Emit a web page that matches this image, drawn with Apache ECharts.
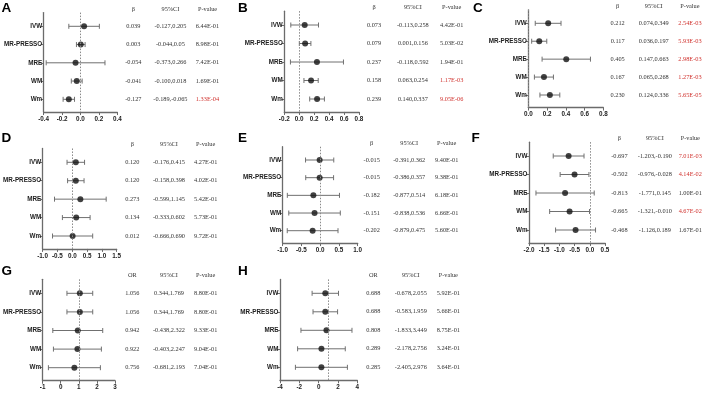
<!DOCTYPE html>
<html>
<head>
<meta charset="utf-8">
<script src="https://cdn.jsdelivr.net/npm/echarts@6/dist/echarts.min.js"></script>
<style>
  html, body { margin: 0; padding: 0; background: #fff; }
  #chart { width: 708px; height: 393px; }
</style>
</head>
<body>
<div id="chart"></div>
<script>
// rows of every panel
const methods = ['IVW', 'MR-PRESSO', 'MRE', 'WM', 'Wm'];
const headBeta = ['β', '95%CI', 'P-value'];
const headOR = ['OR', '95%CI', 'P-value'];

// values kept as printed strings, plotted with Number()
const estA = ['0.039', '0.003', '-0.054', '-0.041', '-0.127'];
const lowA = ['-0.127', '-0.044', '-0.373', '-0.100', '-0.189'];
const highA = ['0.205', '0.05', '0.266', '0.018', '-0.065'];
const pA = ['6.44E-01', '8.98E-01', '7.42E-01', '1.69E-01', '1.33E-04'];
const ticksA = [-0.4, -0.2, 0, 0.2, 0.4];

const estB = ['0.073', '0.079', '0.237', '0.158', '0.239'];
const lowB = ['-0.113', '0.001', '-0.118', '0.063', '0.140'];
const highB = ['0.258', '0.156', '0.592', '0.254', '0.337'];
const pB = ['4.42E-01', '5.03E-02', '1.94E-01', '1.17E-03', '9.05E-06'];
const ticksB = [-0.2, 0, 0.2, 0.4, 0.6, 0.8];

const estC = ['0.212', '0.117', '0.405', '0.167', '0.230'];
const lowC = ['0.074', '0.036', '0.147', '0.065', '0.124'];
const highC = ['0.349', '0.197', '0.663', '0.268', '0.336'];
const pC = ['2.54E-03', '5.93E-03', '2.98E-03', '1.27E-03', '5.65E-05'];
const ticksC = [0, 0.2, 0.4, 0.6, 0.8];

const estD = ['0.120', '0.120', '0.273', '0.134', '0.012'];
const lowD = ['-0.176', '-0.158', '-0.599', '-0.333', '-0.666'];
const highD = ['0.415', '0.398', '1.145', '0.602', '0.690'];
const pD = ['4.27E-01', '4.02E-01', '5.42E-01', '5.73E-01', '9.72E-01'];
const ticksD = [-1, -0.5, 0, 0.5, 1, 1.5];

const estE = ['-0.015', '-0.015', '-0.182', '-0.151', '-0.202'];
const lowE = ['-0.391', '-0.386', '-0.877', '-0.838', '-0.879'];
const highE = ['0.362', '0.357', '0.514', '0.536', '0.475'];
const pE = ['9.40E-01', '9.38E-01', '6.18E-01', '6.66E-01', '5.60E-01'];
const ticksE = [-1, -0.5, 0, 0.5, 1];

const estF = ['-0.697', '-0.502', '-0.813', '-0.665', '-0.468'];
const lowF = ['-1.203', '-0.976', '-1.771', '-1.321', '-1.126'];
const highF = ['-0.190', '-0.028', '0.145', '-0.010', '0.189'];
const pF = ['7.01E-03', '4.14E-02', '1.00E-01', '4.67E-02', '1.67E-01'];
const ticksF = [-2, -1.5, -1, -0.5, 0, 0.5];

const estG = ['1.056', '1.056', '0.942', '0.922', '0.756'];
const lowG = ['0.344', '0.344', '-0.438', '-0.403', '-0.681'];
const highG = ['1.769', '1.769', '2.322', '2.247', '2.193'];
const pG = ['8.80E-01', '8.80E-01', '9.33E-01', '9.04E-01', '7.04E-01'];
const ticksG = [-1, 0, 1, 2, 3];

const estH = ['0.688', '0.688', '0.808', '0.289', '0.285'];
const lowH = ['-0.678', '-0.583', '-1.833', '-2.178', '-2.405'];
const highH = ['2.055', '1.959', '3.449', '2.756', '2.976'];
const pH = ['5.92E-01', '5.66E-01', '8.75E-01', '3.24E-01', '3.64E-01'];
const ticksH = [-4, -2, 0, 2, 4];

const panels = [
  { id: 'A', est: estA, low: lowA, high: highA, p: pA, ticks: ticksA, head: headBeta, ref: 0, dec: 1 },
  { id: 'B', est: estB, low: lowB, high: highB, p: pB, ticks: ticksB, head: headBeta, ref: 0, dec: 1 },
  { id: 'C', est: estC, low: lowC, high: highC, p: pC, ticks: ticksC, head: headBeta, ref: 0, dec: 1 },
  { id: 'D', est: estD, low: lowD, high: highD, p: pD, ticks: ticksD, head: headBeta, ref: 0, dec: 1 },
  { id: 'E', est: estE, low: lowE, high: highE, p: pE, ticks: ticksE, head: headBeta, ref: 0, dec: 1 },
  { id: 'F', est: estF, low: lowF, high: highF, p: pF, ticks: ticksF, head: headBeta, ref: 0, dec: 1 },
  { id: 'G', est: estG, low: lowG, high: highG, p: pG, ticks: ticksG, head: headOR, ref: 1, dec: 0 },
  { id: 'H', est: estH, low: lowH, high: highH, p: pH, ticks: ticksH, head: headOR, ref: 1, dec: 0 }
];

// pixel layout of each panel: y-axis x, x-axis end, first/last row y, table column centres, letter pos
const layout = {
  A: { x0: 43.7, x1: 117.3, r1: 26.3, r5: 99.3, c1: 133.3, c3: 207.5, lx: 1.5, ly: 8 },
  B: { x0: 284.3, x1: 359, r1: 25, r5: 99, c1: 374, c3: 451.7, lx: 238, ly: 8.3 },
  C: { x0: 528.3, x1: 603.3, r1: 23.3, r5: 95, c1: 618.3, c3: 693.3, lx: 473, ly: 8.2 },
  D: { x0: 41, x1: 116.7, r1: 162.3, r5: 236, c1: 132.3, c3: 205.7, lx: 1.5, ly: 138.3 },
  E: { x0: 282.7, x1: 357.7, r1: 160, r5: 230.7, c1: 371.7, c3: 446.7, lx: 238, ly: 138.3 },
  F: { x0: 529, x1: 605, r1: 156, r5: 230, c1: 620, c3: 693.3, lx: 471.5, ly: 138 },
  G: { x0: 39.3, x1: 115, r1: 293.3, r5: 367.7, c1: 132.3, c3: 205.7, lx: 1.5, ly: 271.3 },
  H: { x0: 280, x1: 357.3, r1: 293.3, r5: 367.3, c1: 373.3, c3: 448.3, lx: 238, ly: 271.3 }
};

const AXIS = '#6b6b6b';
const BAR = '#707070';
const RED = '#d0312d';
const labelFont = '"Liberation Sans", Arial, sans-serif';
const tableFont = '"Liberation Serif", "DejaVu Serif", serif';

const chart = echarts.init(document.getElementById('chart'), null, { renderer: 'canvas' });

const grid = [], xAxis = [], yAxis = [], series = [], graphic = [];

panels.forEach((pn, k) => {
  const L = layout[pn.id];
  const unit = (L.r5 - L.r1) / 4;
  const yMin = 0.25, yMax = 5.7;
  const gi = k * 2;

  // plot grid
  grid.push({ left: L.x0, top: L.r1 - (1 - yMin) * unit, width: L.x1 - L.x0, height: (yMax - yMin) * unit });
  xAxis.push({
    type: 'value', gridIndex: gi,
    min: pn.ticks[0], max: pn.ticks[pn.ticks.length - 1],
    interval: pn.ticks[1] - pn.ticks[0],
    axisLine: { show: true, onZero: false, lineStyle: { color: AXIS, width: 1.3 } },
    axisTick: { show: true, length: 3, lineStyle: { color: AXIS, width: 1 } },
    splitLine: { show: false },
    axisLabel: {
      margin: 4, fontSize: 6.3, fontWeight: 'bold', color: '#222', fontFamily: labelFont,
      formatter: v => (Math.abs(v) < 1e-9 ? 0 : v).toFixed(pn.dec)
    }
  });
  yAxis.push({
    type: 'value', gridIndex: gi, inverse: true, min: yMin, max: yMax,
    axisLine: { show: true, onZero: false, lineStyle: { color: AXIS, width: 1.3 } },
    axisTick: { show: true, length: 3, customValues: [1, 2, 3, 4, 5], lineStyle: { color: AXIS, width: 1 } },
    splitLine: { show: false },
    axisLabel: {
      margin: 1.5, fontSize: 6.3, fontWeight: 'bold', color: '#222', fontFamily: labelFont,
      customValues: [1, 2, 3, 4, 5],
      formatter: v => methods[Math.round(v) - 1] || ''
    }
  });

  // table grid (column values 0..3, rows share the plot's row spacing)
  const s = (L.c3 - L.c1) / 2;
  grid.push({ left: L.c1 - s / 2, top: L.r1 - unit, width: 3 * s, height: yMax * unit });
  xAxis.push({ type: 'value', gridIndex: gi + 1, min: 0, max: 3, show: false });
  yAxis.push({ type: 'value', gridIndex: gi + 1, inverse: true, min: 0, max: yMax, show: false });

  // error bars
  series.push({
    type: 'custom', xAxisIndex: gi, yAxisIndex: gi, silent: true, z: 3,
    data: methods.map((m, i) => [Number(pn.low[i]), Number(pn.high[i]), i + 1]),
    renderItem: (params, api) => {
      const a = api.coord([api.value(0), api.value(2)]);
      const b = api.coord([api.value(1), api.value(2)]);
      const st = { stroke: BAR, lineWidth: 1 };
      return {
        type: 'group', children: [
          { type: 'line', shape: { x1: a[0], y1: a[1], x2: b[0], y2: b[1] }, style: st },
          { type: 'line', shape: { x1: a[0], y1: a[1] - 2.5, x2: a[0], y2: a[1] + 2.5 }, style: st },
          { type: 'line', shape: { x1: b[0], y1: b[1] - 2.5, x2: b[0], y2: b[1] + 2.5 }, style: st }
        ]
      };
    }
  });

  // point estimates + null line
  series.push({
    type: 'scatter', xAxisIndex: gi, yAxisIndex: gi, silent: true, z: 4,
    symbol: 'circle', symbolSize: 6,
    itemStyle: { color: '#111' },
    data: methods.map((m, i) => [Number(pn.est[i]), i + 1]),
    markLine: {
      silent: true, symbol: 'none', label: { show: false }, animation: false,
      lineStyle: { color: '#8a8a8a', type: [1.5, 1.5], width: 1 },
      data: [{ xAxis: pn.ref }]
    }
  });

  // table text
  const rows = [];
  pn.head.forEach((h, j) => rows.push([j + 0.5, 0.05, h, 0]));
  methods.forEach((m, i) => {
    rows.push([0.5, i + 1, pn.est[i], 0]);
    rows.push([1.5, i + 1, pn.low[i] + ',' + pn.high[i], 0]);
    rows.push([2.5, i + 1, pn.p[i], Number(pn.p[i]) < 0.05 ? 1 : 0]);
  });
  series.push({
    type: 'custom', xAxisIndex: gi + 1, yAxisIndex: gi + 1, silent: true, clip: false,
    data: rows,
    renderItem: (params, api) => {
      const d = rows[params.dataIndex];
      const c = api.coord([d[0], d[1]]);
      return {
        type: 'text', x: c[0], y: c[1],
        style: {
          text: d[2], fill: d[3] ? RED : '#333',
          font: '6.3px ' + tableFont, align: 'center', verticalAlign: 'middle'
        }
      };
    }
  });

  graphic.push({
    type: 'text', left: L.lx, top: L.ly - 7,
    style: { text: pn.id, font: 'bold 13.5px "Liberation Sans", Arial, sans-serif', fill: '#000' }
  });
});

chart.setOption({
  animation: false,
  backgroundColor: '#fff',
  grid, xAxis, yAxis, series, graphic
});
</script>
</body>
</html>
